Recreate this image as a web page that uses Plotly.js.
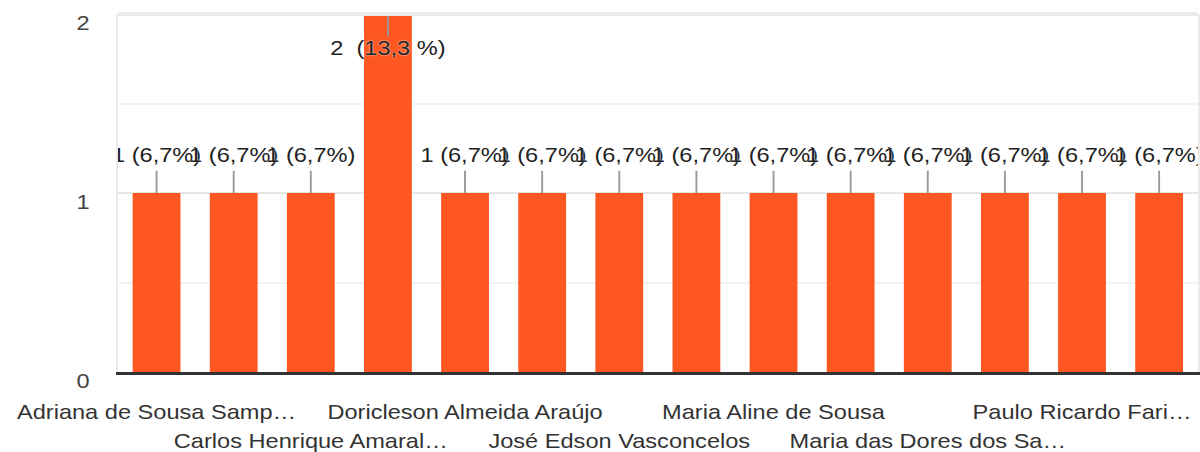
<!DOCTYPE html>
<html><head><meta charset="utf-8">
<script src="https://cdn.plot.ly/plotly-3.0.1.min.js"></script>
<style>
html,body{margin:0;padding:0;background:#fff;overflow:hidden}
#chart{width:1017px;height:452px;transform:scaleX(1.18);transform-origin:0 0}
</style></head><body><div id="chart"></div>
<script>
const categories = ["Adriana de Sousa Samp…", "Respondente 2", "Carlos Henrique Amaral…", "Respondente 4",
  "Doricleson Almeida Araújo", "Respondente 6", "José Edson Vasconcelos", "Respondente 8",
  "Maria Aline de Sousa", "Respondente 10", "Maria das Dores dos Sa…", "Respondente 12",
  "Paulo Ricardo Fari…", "Respondente 14"];
const counts = [1, 1, 1, 2, 1, 1, 1, 1, 1, 1, 1, 1, 1, 1];
const valueLabels = ["1 (6,7%)", "1 (6,7%)", "1 (6,7%)", "2\u00a0\u00a0(13,3\u00a0%)", "1 (6,7%)", "1 (6,7%)", "1 (6,7%)",
  "1 (6,7%)", "1 (6,7%)", "1 (6,7%)", "1 (6,7%)", "1 (6,7%)", "1 (6,7%)", "1 (6,7%)"];
const tickRow1 = ["Adriana de Sousa Samp…", "Doricleson Almeida Araújo", "Maria Aline de Sousa", "Paulo Ricardo Fari…"];
const tickRow2 = ["Carlos Henrique Amaral…", "José Edson Vasconcelos", "Maria das Dores dos Sa…"];
const yTicks = [0, 1, 2];

const yMax = 2;
const labelOffset = 0.2;
const connectorLen = 0.125;

const labelY = counts.map(v => (v + labelOffset > yMax ? v - labelOffset : v + labelOffset));
const connX = [], connY = [];
counts.forEach((v, i) => {
  const dir = (v + labelOffset > yMax) ? -1 : 1;
  connX.push(categories[i], categories[i], null);
  connY.push(v, v + dir * connectorLen, null);
});

const FONT = '"Liberation Sans", Arial, Helvetica, sans-serif';
const xRange = [-0.5, categories.length - 0.5];

const traces = [
  {type: 'bar', x: categories, y: counts, marker: {color: '#ff5722'}, hoverinfo: 'none'},
  {type: 'scatter', mode: 'lines', x: connX, y: connY, line: {color: '#999999', width: 1.6},
   hoverinfo: 'skip', cliponaxis: true},
  {type: 'scatter', mode: 'text', x: categories, y: labelY, text: valueLabels, textposition: 'middle center',
   textfont: {family: FONT, size: 20, color: '#222222', shadow: '0px 0px 2px #ffffff'},
   hoverinfo: 'skip', cliponaxis: true},
  {type: 'scatter', mode: 'markers', x: categories, y: counts, xaxis: 'x2', marker: {opacity: 0},
   hoverinfo: 'skip'}
];

const layout = {
  width: 1017, height: 452,
  margin: {l: 100, r: 2, t: 14, b: 80},
  paper_bgcolor: '#ffffff', plot_bgcolor: '#ffffff',
  showlegend: false,
  bargap: 0.38,
  font: {family: FONT, size: 20, color: '#333333'},
  xaxis: {type: 'category', categoryorder: 'array', categoryarray: categories, range: xRange, autorange: false,
    tickvals: tickRow1, ticktext: tickRow1, tickangle: 0,
    showline: true, linecolor: '#333333', linewidth: 3, showgrid: false, ticks: '',
    ticklabelstandoff: 20, tickfont: {family: FONT, size: 20, color: '#333333'}},
  xaxis2: {type: 'category', overlaying: 'x', side: 'bottom', range: xRange, autorange: false,
    categoryorder: 'array', categoryarray: categories,
    tickvals: tickRow2, ticktext: tickRow2, tickangle: 0,
    showline: false, showgrid: false, ticks: '', zeroline: false,
    ticklabelstandoff: 55, tickfont: {family: FONT, size: 20, color: '#333333'}},
  yaxis: {range: [0, yMax], autorange: false, tickvals: yTicks, ticktext: yTicks.map(String),
    showgrid: true, gridcolor: '#e6e6e6', gridwidth: 2, zeroline: false,
    showline: true, linecolor: '#ebebeb', linewidth: 2, mirror: true, ticks: '',
    ticklabelstandoff: 18, ticklabelshift: 9,
    tickfont: {family: FONT, size: 20, color: '#444444'},
    minor: {dtick: 0.5, tick0: 0, showgrid: true, gridcolor: '#f2f2f2', gridwidth: 2}},
  shapes: [{type: 'line', xref: 'paper', yref: 'paper', x0: 0, x1: 1, y0: 1, y1: 1,
    line: {color: '#ebebeb', width: 4}, layer: 'above'}]
};

Plotly.newPlot('chart', traces, layout, {displayModeBar: false, staticPlot: true});
</script></body></html>
